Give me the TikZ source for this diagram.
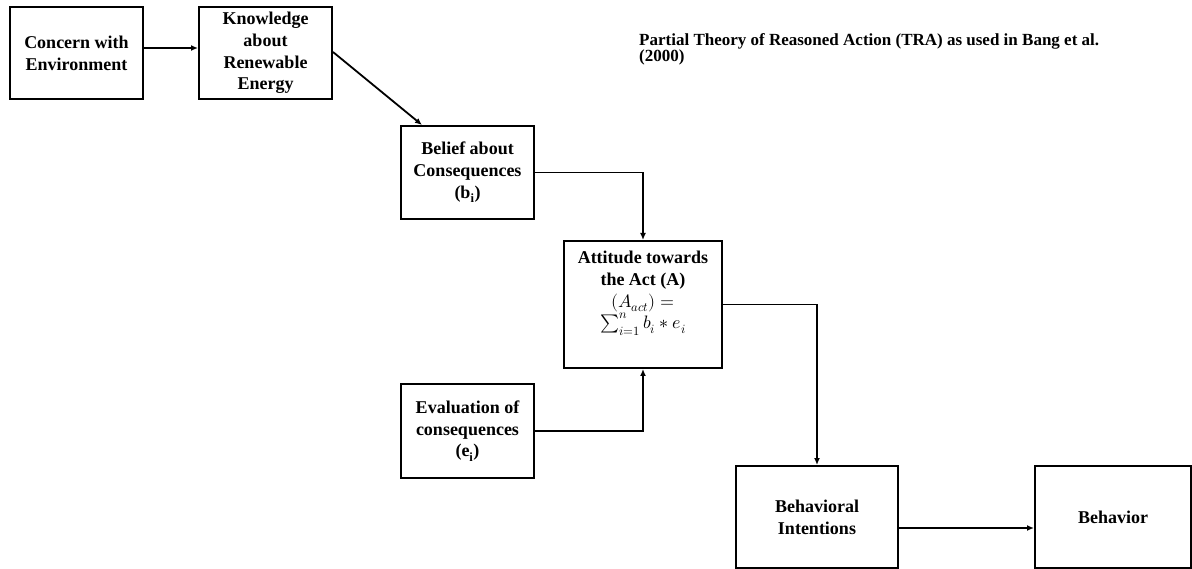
\documentclass[tikz,border=0pt]{standalone}
\usepackage{unicode-math}
\setmainfont{Liberation Serif}
\setmathfont{Latin Modern Math}
\usetikzlibrary{arrows.meta}
\begin{document}
\begin{tikzpicture}[x=1pt,y=-1pt,
  box/.style={draw=black, line width=2pt, rectangle, inner sep=0pt,
    align=center, font=\bfseries\fontsize{18}{21.7}\selectfont},
  txt/.style={inner sep=0pt, align=center, font=\bfseries\fontsize{18}{21.7}\selectfont},
  link/.style={draw=black, line width=1.8pt, -{Latex[length=7pt,width=6pt]}}]
\useasboundingbox (0,0) rectangle (1192,569);
\fill[white] (0,0) rectangle (1192,569);

% boxes
\node[box, minimum width=133pt, minimum height=92pt] (concern) at (76.5,53) {Concern with\\Environment};
\node[box, minimum width=133pt, minimum height=92pt] (knowledge) at (265.5,53) {Knowledge\\about\\Renewable\\Energy};
\node[box, minimum width=133pt, minimum height=93pt] (belief) at (467.5,172.5) {Belief about\\Consequences\\(b\textsubscript{i})};
\node[box, minimum width=158pt, minimum height=127pt] (attitude) at (643,304.5) {};
\node[txt, anchor=north] (attitudetext) at ([yshift=-11pt]attitude.north)
  {Attitude towards\\the Act (A)\\\mdseries$(A_{act}) =$\\\mdseries$\sum_{i=1}^{n} b_i * e_i$};
\node[box, minimum width=133pt, minimum height=94pt] (evaluation) at (467.5,431) {Evaluation of\\consequences\\(e\textsubscript{i})};
\node[box, minimum width=162pt, minimum height=102pt] (intentions) at (817,517) {Behavioral\\Intentions};
\node[box, minimum width=156pt, minimum height=102pt] (behavior) at (1113,517) {Behavior};

% title
\node[inner sep=0pt, anchor=north west, align=left,
  font=\bfseries\fontsize{17}{16.5}\selectfont] (title) at (639,33)
  {Partial Theory of Reasoned Action (TRA) as used in Bang et al.\\(2000)};

% connectors
\draw[link] ([yshift=5pt]concern.east) -- ([yshift=5pt]knowledge.west);
\draw[link] ([yshift=1pt]knowledge.east) -- ([xshift=22pt]belief.north west);
\draw[link] (belief.east) -| (attitude.north);
\draw[link] (evaluation.east) -| (attitude.south);
\draw[link] (attitude.east) -| (intentions.north);
\draw[link] ([yshift=-11pt]intentions.east) -- ([yshift=-11pt]behavior.west);
\end{tikzpicture}
\end{document}
